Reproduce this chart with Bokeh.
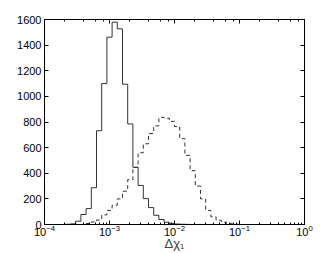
from bokeh.plotting import figure
from bokeh.models import LogAxis, LinearAxis, Range1d, CustomJSTickFormatter, FixedTicker
from bokeh.embed import file_html
from bokeh.resources import INLINE

# log10 bin layout (first edge exponent, bin width in decades)
edge_start = -4.0
bin_width = 0.08

# solid histogram counts, bins 4..27
solid_first_bin = 4
solid_counts = [2, 5, 26, 78, 124, 287, 732, 1100, 1462, 1579, 1527, 1095, 785,
                447, 305, 202, 132, 72, 39, 18, 8, 4, 2, 1]

# dashed histogram counts, bins 8..37
dashed_first_bin = 8
dashed_counts = [8, 20, 35, 75, 110, 150, 200, 260, 350, 445, 560, 630, 710, 770,
                 836, 830, 805, 765, 670, 540, 420, 300, 200, 110, 60, 33, 18, 8, 4, 2]

y_ticks = [0, 200, 400, 600, 800, 1000, 1200, 1400, 1600]
x_label = "Δχ\u2081"


def step_xy(first_bin, counts):
    xs, ys = [], []
    for i, c in enumerate(counts):
        lo = 10 ** (edge_start + (first_bin + i) * bin_width)
        hi = 10 ** (edge_start + (first_bin + i + 1) * bin_width)
        if i == 0:
            xs.append(lo); ys.append(0)
        xs += [lo, hi]
        ys += [c, c]
        if i == len(counts) - 1:
            xs.append(hi); ys.append(0)
    return xs, ys


p = figure(width=328, height=253, x_axis_type="log",
           x_range=Range1d(1e-4, 1), y_range=Range1d(0, 1600),
           output_backend="svg", toolbar_location=None,
           min_border_left=44, min_border_right=24, min_border_top=19, min_border_bottom=28)

p.xgrid.visible = False
p.ygrid.visible = False
p.outline_line_color = "black"
p.background_fill_color = "white"
p.border_fill_color = "white"

sx, sy = step_xy(solid_first_bin, solid_counts)
dx, dy = step_xy(dashed_first_bin, dashed_counts)
p.line(sx, sy, line_color="#333333", line_width=1)
p.line(dx, dy, line_color="#333333", line_width=1, line_dash="4 3")

font = "Liberation Sans"
for ax in p.xaxis + p.yaxis:
    ax.major_tick_in = 4
    ax.major_tick_out = 0
    ax.minor_tick_in = 2
    ax.minor_tick_out = 0
    ax.axis_line_color = "black"
    ax.major_tick_line_color = "black"
    ax.minor_tick_line_color = "black"
    ax.major_label_text_font = font
    ax.major_label_text_font_size = "11px"
    ax.major_label_text_color = "black"

p.yaxis.ticker = FixedTicker(ticks=y_ticks)
p.yaxis.minor_tick_line_color = None
p.yaxis.major_label_standoff = 3
p.xaxis.major_label_standoff = 0
p.xaxis.axis_label = x_label
p.xaxis.axis_label_text_font = font
p.xaxis.axis_label_text_font_size = "13px"
p.xaxis.axis_label_text_font_style = "normal"
p.xaxis.axis_label_standoff = -3

empty = CustomJSTickFormatter(code="return ''")
top = LogAxis(formatter=empty, major_tick_in=4, major_tick_out=0,
              minor_tick_in=2, minor_tick_out=0, major_label_standoff=0)
right = LinearAxis(formatter=empty, ticker=FixedTicker(ticks=y_ticks),
                   major_tick_in=4, major_tick_out=0, minor_tick_line_color=None,
                   major_label_standoff=0)
p.add_layout(top, "above")
p.add_layout(right, "right")

open("out.html", "w").write(file_html(p, INLINE))
